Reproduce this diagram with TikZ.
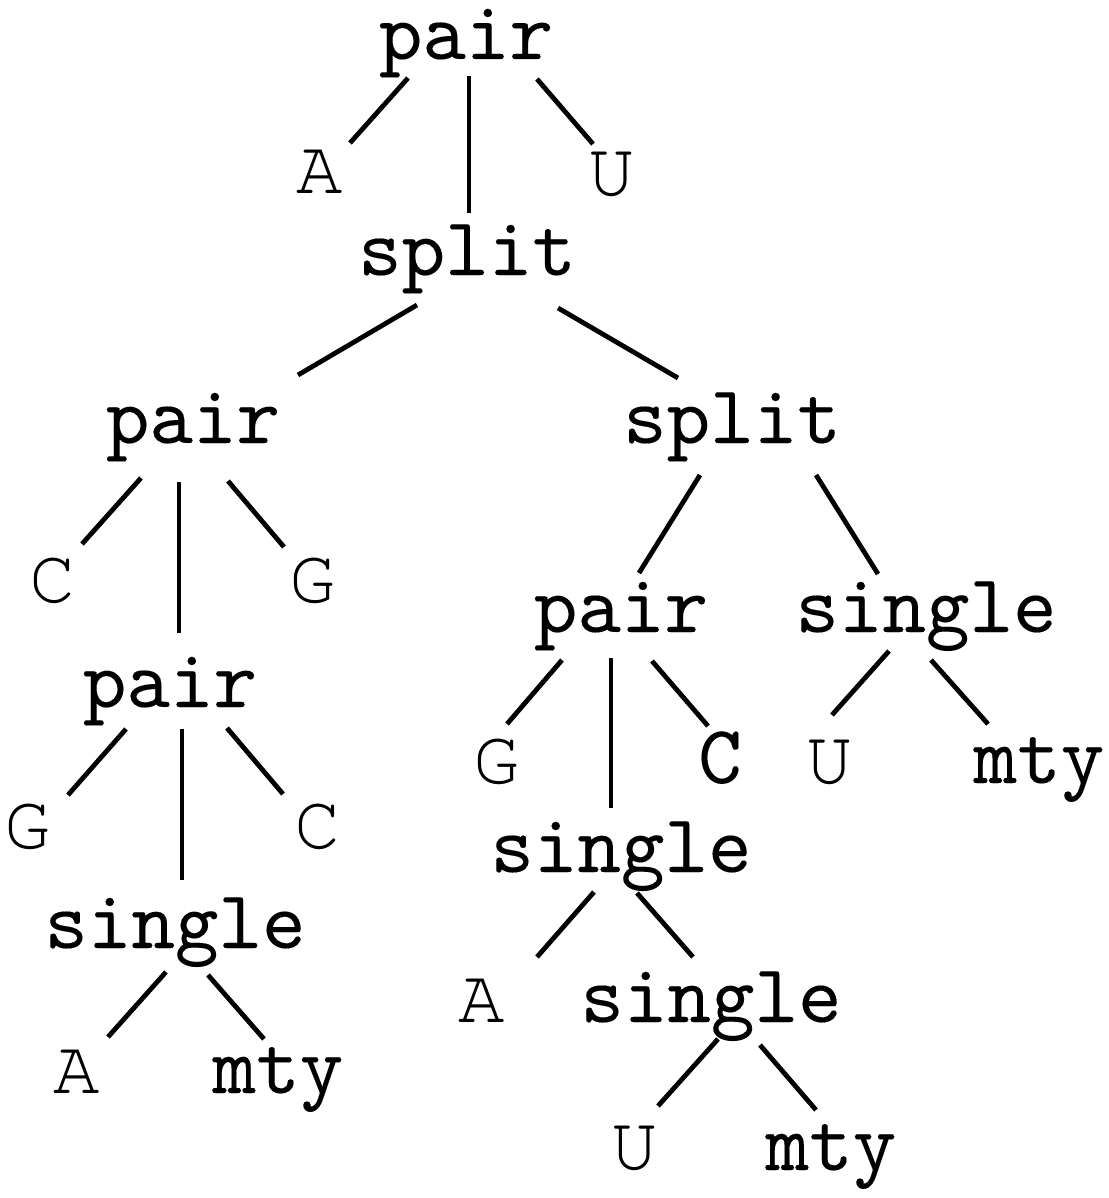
\documentclass[tikz,border=0pt]{standalone}
\usepackage{fontspec}
\newfontfamily\lmmono{lmmono10-regular.otf}[FakeBold=0.12]
\newfontfamily\courmono{texgyrecursor-regular.otf}
\usetikzlibrary{calc}
\tikzset{
  lbl/.style={inner sep=0pt, outer sep=0pt, anchor=base,
    font=\lmmono\fontsize{20.74}{25}\selectfont},
  leaf/.style={lbl, font=\courmono\fontsize{19.3}{23}\selectfont},
  branch/.style={line width=1.2pt, line cap=butt}
}
\begin{document}
\begin{tikzpicture}[x=0.25pt,y=-0.25pt]
\useasboundingbox (0,0) rectangle (1108,1198);
% nodes
\node[lbl]  (p0) at (466,59)   {pair};
\node[leaf] (a0) at (320,194)  {A};
\node[leaf] (u0) at (612,195)  {U};
\node[lbl]  (s0) at (467,275)  {split};
\node[lbl]  (p1) at (193,443)  {pair};
\node[lbl]  (s1) at (732,443)  {split};
\node[leaf] (c1) at (53,602)   {C};
\node[leaf] (g1) at (313,602)  {G};
\node[lbl]  (p2) at (170,707)  {pair};
\node[leaf] (g2) at (28,848)   {G};
\node[leaf] (c2) at (318,848)  {C};
\node[lbl]  (n1) at (175,948)  {single};
\node[leaf] (a2) at (77,1093)  {A};
\node[lbl]  (m2) at (278,1093) {mty};
\node[lbl]  (p3) at (621,632)  {pair};
\node[lbl]  (n3) at (926,632)  {single};
\node[leaf] (g3) at (497,783)  {G};
\node[lbl]  (c3) at (720,783)  {C};
\node[leaf] (u3) at (830,783)  {U};
\node[lbl]  (m3) at (1039,783) {mty};
\node[lbl]  (n4) at (621,872)  {single};
\node[leaf] (a4) at (482,1022) {A};
\node[lbl]  (n5) at (711,1022) {single};
\node[leaf] (u5) at (635,1169) {U};
\node[lbl]  (m5) at (831,1170) {mty};
% edges
\draw[branch] ($(p0.base)+(-58,19)$) -- ($(a0.base)+(30,-51)$);
\draw[branch] ($(p0.base)+(3,17)$)   -- ($(s0.base)+(2,-62)$);
\draw[branch] ($(p0.base)+(71,20)$)  -- ($(u0.base)+(-19,-51)$);
\draw[branch] ($(s0.base)+(-50,30)$) -- ($(p1.base)+(105,-68)$);
\draw[branch] ($(s0.base)+(91,33)$)  -- ($(s1.base)+(-54,-65)$);
\draw[branch] ($(p1.base)+(-52,35)$) -- ($(c1.base)+(29,-58)$);
\draw[branch] ($(p1.base)+(-14,39)$) -- ($(p2.base)+(9,-74)$);
\draw[branch] ($(p1.base)+(35,38)$)  -- ($(g1.base)+(-29,-55)$);
\draw[branch] ($(p2.base)+(-44,22)$) -- ($(g2.base)+(40,-53)$);
\draw[branch] ($(p2.base)+(12,22)$)  -- ($(n1.base)+(7,-68)$);
\draw[branch] ($(p2.base)+(57,21)$)  -- ($(c2.base)+(-35,-54)$);
\draw[branch] ($(n1.base)+(-9,24)$)  -- ($(a2.base)+(31,-56)$);
\draw[branch] ($(n1.base)+(33,27)$)  -- ($(m2.base)+(-14,-54)$);
\draw[branch] ($(s1.base)+(-32,32)$) -- ($(p3.base)+(18,-59)$);
\draw[branch] ($(s1.base)+(84,32)$)  -- ($(n3.base)+(-48,-58)$);
\draw[branch] ($(p3.base)+(-59,28)$) -- ($(g3.base)+(10,-59)$);
\draw[branch] ($(p3.base)+(-10,26)$) -- ($(n4.base)+(-10,-64)$);
\draw[branch] ($(p3.base)+(31,29)$)  -- ($(c3.base)+(-12,-57)$);
\draw[branch] ($(n3.base)+(-37,19)$) -- ($(u3.base)+(2,-68)$);
\draw[branch] ($(n3.base)+(5,28)$)   -- ($(m3.base)+(-51,-59)$);
\draw[branch] ($(n4.base)+(-27,20)$) -- ($(a4.base)+(55,-65)$);
\draw[branch] ($(n4.base)+(16,21)$)  -- ($(n5.base)+(-18,-65)$);
\draw[branch] ($(n5.base)+(7,17)$)   -- ($(u5.base)+(23,-63)$);
\draw[branch] ($(n5.base)+(49,23)$)  -- ($(m5.base)+(-15,-60)$);
\end{tikzpicture}
\end{document}
